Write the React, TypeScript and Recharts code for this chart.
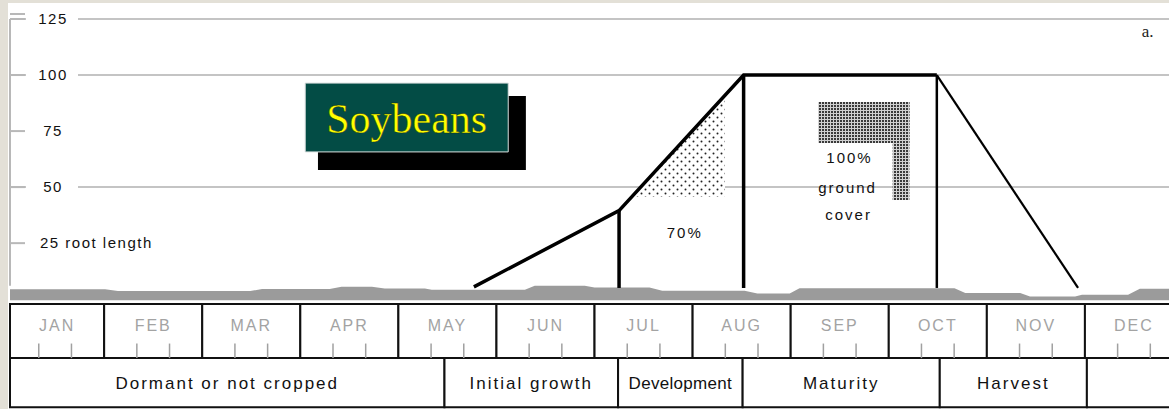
import React from "react";
import {
  ComposedChart,
  Line,
  Area,
  XAxis,
  YAxis,
  CartesianGrid,
  ReferenceArea,
  ReferenceLine,
  ReferenceDot,
} from "recharts";

// x is measured in months from Jan 1, y in percent ground cover
const X_MIN = 0.04;
const X_MAX = 12;
const Y_MIN = -49;
const Y_MAX = 125;
const PLOT_LEFT = 10;

const MONTHS = ["JAN", "FEB", "MAR", "APR", "MAY", "JUN", "JUL", "AUG", "SEP", "OCT", "NOV", "DEC"];
const MONTH_TICK_DAYS = [10, 20];

const PHASES = ["Dormant or not cropped", "Initial growth", "Development", "Maturity", "Harvest", ""];
const PHASE_EDGES = [X_MIN, 4.47, 6.24, 7.51, 9.52, 11.02, 12];

const Y_TICKS = [25, 50, 75, 100, 125];
const Y_TICK_LABELS = ["25 root length", "50", "75", "100", "125"];
const GRID_VALUES = [50, 100, 125];

// canopy cover through the season
const COVER_RISE = [
  { m: 4.77, v: 5.5 },
  { m: 6.25, v: 39.5 },
  { m: 7.52, v: 100 },
  { m: 9.49, v: 100 },
];
const COVER_FALL = [
  { m: 9.49, v: 100 },
  { m: 10.93, v: 5 },
];
const STAGE_MARKS = [
  { m: 6.25, v: 39.5, w: 3.5 },
  { m: 7.52, v: 100, w: 3.5 },
  { m: 9.49, v: 100, w: 2.5 },
];
const DOTTED_WEDGE = [
  { m: 6.38, v: 45.6 },
  { m: 7.33, v: 90 },
];

// residue left on the surface
const RESIDUE = [
  { m: 0.04, v: 4.4 }, { m: 1.01, v: 4.4 }, { m: 1.14, v: 3.6 }, { m: 2.49, v: 3.6 },
  { m: 2.61, v: 4.5 }, { m: 3.3, v: 4.5 }, { m: 3.42, v: 5.5 }, { m: 3.73, v: 5.5 },
  { m: 3.86, v: 4.8 }, { m: 4.27, v: 4.8 }, { m: 4.34, v: 4.2 }, { m: 5.29, v: 4.2 },
  { m: 5.39, v: 6.0 }, { m: 5.9, v: 6.0 }, { m: 6.0, v: 5.2 }, { m: 6.56, v: 5.2 },
  { m: 6.69, v: 3.8 }, { m: 7.53, v: 3.8 }, { m: 7.66, v: 2.5 }, { m: 7.99, v: 2.5 },
  { m: 8.09, v: 4.9 }, { m: 9.67, v: 4.9 }, { m: 9.78, v: 2.8 }, { m: 10.34, v: 2.8 },
  { m: 10.44, v: 1.2 }, { m: 10.9, v: 1.2 }, { m: 10.97, v: 2.0 }, { m: 11.44, v: 2.0 },
  { m: 11.56, v: 4.6 }, { m: 12, v: 4.6 },
];

// full-cover marker (L shaped block)
const FULL_COVER_BLOCK = [
  { x1: 8.28, x2: 9.21, y1: 69.7, y2: 88 },
  { x1: 9.04, x2: 9.21, y1: 44.2, y2: 88 },
];

const NOTES = [
  { m: 6.92, v: 29.5, text: "70%" },
  { m: 8.6, v: 63, text: "100%" },
  { m: 8.58, v: 49.6, text: "ground" },
  { m: 8.59, v: 37.5, text: "cover" },
];

const TITLE = "Soybeans";
const TITLE_BOX = { x1: 3.05, x2: 5.12, y1: 65.7, y2: 96.4 };
const TITLE_SHADOW = { x1: 3.18, x2: 5.3, y1: 57.6, y2: 90.6 };

const MONTH_ROW = { top: -2.2, bottom: -26.3, tick: -19.8 };
const PHASE_ROW = { top: -26.3, bottom: -48.2 };

const SANS = "'Liberation Sans', Arial, sans-serif";
const SERIF = "'Liberation Serif', 'Times New Roman', serif";

function YTick(props: any) {
  const { y, payload } = props;
  const label = Y_TICK_LABELS[Y_TICKS.indexOf(payload.value)];
  const long = label.length > 4;
  return (
    <g>
      <rect x={PLOT_LEFT + 16} y={y - 9} width={long ? 160 : 52} height={18} fill="#fff" />
      <line x1={PLOT_LEFT} x2={PLOT_LEFT + 15} y1={y} y2={y} stroke="#b8b8b8" strokeWidth={2} />
      {payload.value === 125 && (
        <line x1={PLOT_LEFT} x2={PLOT_LEFT + 15} y1={y - 5} y2={y - 5} stroke="#b8b8b8" strokeWidth={2} />
      )}
      <text
        x={long ? PLOT_LEFT + 30 : PLOT_LEFT + 43}
        y={y + 5}
        textAnchor={long ? "start" : "middle"}
        fontFamily={SANS}
        fontSize={15}
        letterSpacing={1.5}
        fill="#111"
      >
        {label}
      </text>
    </g>
  );
}

export default function App() {
  return (
    <div
      style={{
        position: "absolute",
        left: 0,
        top: 0,
        width: 1169,
        height: 409,
        overflow: "hidden",
        background: "#e3e0d7",
      }}
    >
      <div style={{ position: "absolute", left: 8, top: 3, width: 1161, height: 406, background: "#fff" }} />
      <div style={{ position: "absolute", left: 0, top: 0 }}>
        <ComposedChart width={1183} height={409} margin={{ top: 19, right: 0, bottom: 0, left: 0 }}>
          <defs>
            <pattern id="dots" width="8" height="8" patternUnits="userSpaceOnUse">
              <rect width="8" height="8" fill="#fff" />
              <circle cx="1.5" cy="1.5" r="1" fill="#222" />
              <circle cx="5.5" cy="5.5" r="1" fill="#222" />
            </pattern>
            <pattern id="checker" width="3" height="3" patternUnits="userSpaceOnUse">
              <rect width="3" height="3" fill="#d0d0d0" />
              <rect width="2" height="2" fill="#3a3a3a" />
            </pattern>
          </defs>

          <CartesianGrid horizontalValues={GRID_VALUES} vertical={false} stroke="#c4c4c4" strokeWidth={2} />
          <XAxis type="number" dataKey="m" domain={[X_MIN, X_MAX]} hide allowDataOverflow />
          <YAxis
            type="number"
            domain={[Y_MIN, Y_MAX]}
            ticks={Y_TICKS}
            interval={0}
            width={PLOT_LEFT}
            axisLine={false}
            tickLine={false}
            tick={(p: any) => <YTick {...p} />}
            allowDataOverflow
          />

          {/* left axis rule */}
          <ReferenceLine
            segment={[{ x: X_MIN, y: 6 }, { x: X_MIN, y: Y_MAX }]}
            stroke="#b8b8b8"
            strokeWidth={2}
          />

          <Area
            data={RESIDUE}
            dataKey="v"
            type="linear"
            baseValue={-0.5}
            fill="#9b9b9b"
            fillOpacity={1}
            stroke="none"
            dot={false}
            activeDot={false}
            isAnimationActive={false}
          />

          <Area
            data={DOTTED_WEDGE}
            dataKey="v"
            type="linear"
            baseValue={45.6}
            fill="url(#dots)"
            fillOpacity={1}
            stroke="none"
            dot={false}
            activeDot={false}
            isAnimationActive={false}
          />

          {FULL_COVER_BLOCK.map((b, i) => (
            <ReferenceArea key={`blk${i}`} {...b} fill="url(#checker)" fillOpacity={1} stroke="none" />
          ))}

          {STAGE_MARKS.map((s) => (
            <ReferenceLine
              key={`st${s.m}`}
              segment={[{ x: s.m, y: 5 }, { x: s.m, y: s.v }]}
              stroke="#000"
              strokeWidth={s.w}
            />
          ))}

          <Line
            data={COVER_RISE}
            dataKey="v"
            type="linear"
            stroke="#000"
            strokeWidth={3.5}
            dot={false}
            activeDot={false}
            isAnimationActive={false}
          />
          <Line
            data={COVER_FALL}
            dataKey="v"
            type="linear"
            stroke="#000"
            strokeWidth={2.2}
            dot={false}
            activeDot={false}
            isAnimationActive={false}
          />

          {/* title plate with drop shadow */}
          <ReferenceArea {...TITLE_SHADOW} fill="#000" fillOpacity={1} stroke="none" />
          <ReferenceArea
            {...TITLE_BOX}
            fill="#034c45"
            fillOpacity={1}
            stroke="#d8dedd"
            strokeWidth={1}
            label={(p: any) => {
              const vb = p.viewBox;
              return (
                <text
                  x={vb.x + vb.width / 2}
                  y={vb.y + vb.height / 2 + 15}
                  textAnchor="middle"
                  fontFamily={SERIF}
                  fontSize={42}
                  fill="#ffff00"
                  stroke="#1a2a10"
                  strokeWidth={0.4}
                >
                  {TITLE}
                </text>
              );
            }}
          />

          {NOTES.map((n) => (
            <ReferenceDot
              key={n.text}
              x={n.m}
              y={n.v}
              r={0}
              fill="none"
              stroke="none"
              label={(p: any) => {
                const vb = p.viewBox;
                return (
                  <text
                    x={vb.x + (vb.width || 0) / 2}
                    y={vb.y + (vb.height || 0) / 2 + 5}
                    textAnchor="middle"
                    fontFamily={SANS}
                    fontSize={15}
                    letterSpacing={2}
                    fill="#111"
                  >
                    {n.text}
                  </text>
                );
              }}
            />
          ))}

          <ReferenceDot
            x={11.64}
            y={119}
            r={0}
            fill="none"
            stroke="none"
            label={(p: any) => {
              const vb = p.viewBox;
              return (
                <text x={vb.x + (vb.width || 0) / 2} y={vb.y + (vb.height || 0) / 2 + 5} textAnchor="middle" fontFamily={SERIF} fontSize={17} fill="#222">
                  a.
                </text>
              );
            }}
          />

          {/* month strip */}
          {MONTHS.map((name, i) => (
            <ReferenceArea
              key={name}
              x1={Math.max(i, X_MIN)}
              x2={i + 1}
              y1={MONTH_ROW.bottom}
              y2={MONTH_ROW.top}
              fill="#fff"
              fillOpacity={1}
              stroke="#111"
              strokeWidth={2}
              label={(p: any) => {
                const vb = p.viewBox;
                return (
                  <text
                    x={vb.x + vb.width / 2}
                    y={vb.y + 27}
                    textAnchor="middle"
                    fontFamily={SANS}
                    fontSize={16}
                    letterSpacing={2}
                    fill="#a3a3a3"
                  >
                    {name}
                  </text>
                );
              }}
            />
          ))}
          {MONTHS.flatMap((name, i) =>
            MONTH_TICK_DAYS.map((d) => (
              <ReferenceLine
                key={`${name}${d}`}
                segment={[{ x: i + d / 30, y: MONTH_ROW.tick }, { x: i + d / 30, y: MONTH_ROW.bottom }]}
                stroke="#a0a0a0"
                strokeWidth={1.5}
              />
            ))
          )}

          {/* growth stage strip */}
          {PHASES.map((name, i) => (
            <ReferenceArea
              key={`ph${i}`}
              x1={PHASE_EDGES[i]}
              x2={PHASE_EDGES[i + 1]}
              y1={PHASE_ROW.bottom}
              y2={PHASE_ROW.top}
              fill="#fff"
              fillOpacity={1}
              stroke="#111"
              strokeWidth={2}
              label={(p: any) => {
                const vb = p.viewBox;
                return (
                  <text
                    x={vb.x + vb.width / 2}
                    y={vb.y + vb.height / 2 + 6}
                    textAnchor="middle"
                    fontFamily={SANS}
                    fontSize={17}
                    letterSpacing={name === "Development" ? 0.3 : 2}
                    fill="#111"
                  >
                    {name}
                  </text>
                );
              }}
            />
          ))}
        </ComposedChart>
      </div>
    </div>
  );
}
